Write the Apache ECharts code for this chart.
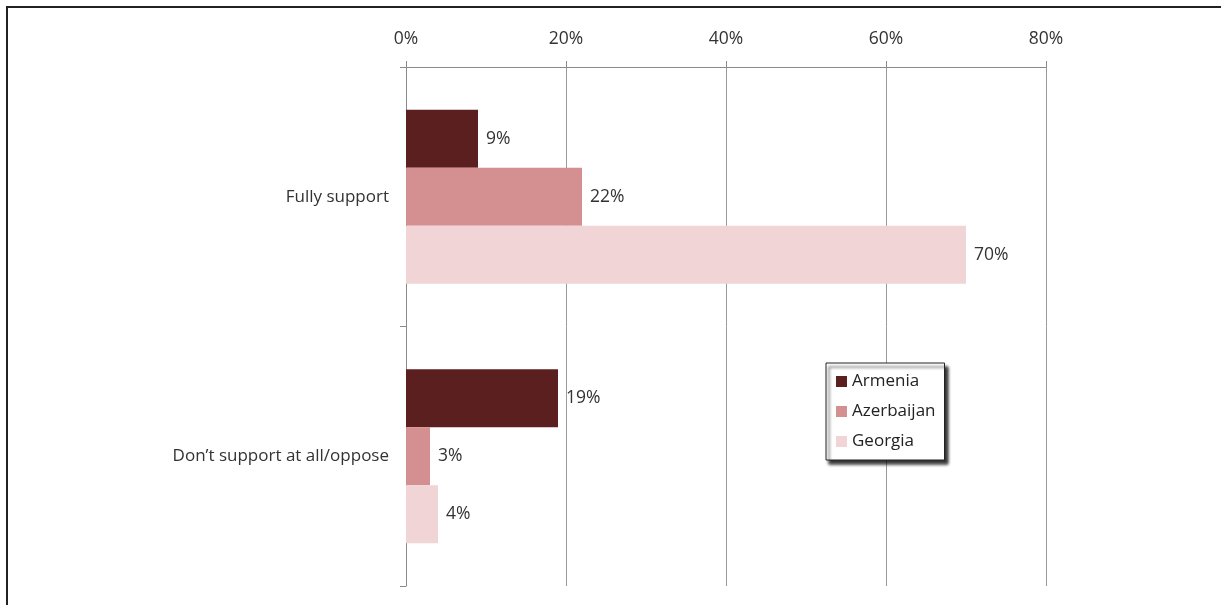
<!DOCTYPE html>
<html>
<head>
<meta charset="utf-8">
<script src="https://cdn.jsdelivr.net/npm/echarts@6/dist/echarts.min.js"></script>
<style>
  html, body { margin: 0; padding: 0; background: #fff; }
  #chart { width: 1221px; height: 605px; }
</style>
</head>
<body>
<div id="chart"></div>
<script>
// Support levels by country (percent of respondents)
const categories = ['Fully support', 'Don\u2019t support at all/oppose'];
const countries = ['Armenia', 'Azerbaijan', 'Georgia'];
const armenia = [9, 19];
const azerbaijan = [22, 3];
const georgia = [70, 4];
const tickValues = [0, 20, 40, 60, 80];

const colors = ['#5c1f1f', '#d48f90', '#f0d4d6'];
const font = '"Open Sans", Lato, sans-serif';

const seriesData = [armenia, azerbaijan, georgia];

const chart = echarts.init(document.getElementById('chart'), null, { renderer: 'canvas' });

chart.setOption({
  animation: false,
  backgroundColor: '#fff',
  grid: { left: 406, right: 175, top: 67, bottom: 19, containLabel: false },
  xAxis: {
    type: 'value',
    position: 'top',
    min: tickValues[0],
    max: tickValues[tickValues.length - 1],
    interval: 20,
    axisLine: { show: true, lineStyle: { color: '#8a8a8a', width: 1 } },
    axisTick: { show: true, length: 6, lineStyle: { color: '#8a8a8a' } },
    axisLabel: {
      formatter: v => v + '%',
      color: '#333',
      fontFamily: font,
      fontSize: 17.5,
      margin: 19
    },
    splitLine: { show: true, lineStyle: { color: '#9a9a9a', width: 1 } }
  },
  yAxis: {
    type: 'category',
    data: categories,
    inverse: true,
    axisLine: { show: true, lineStyle: { color: '#8a8a8a', width: 1 } },
    axisTick: { show: true, length: 6, lineStyle: { color: '#8a8a8a' } },
    axisLabel: {
      color: '#333',
      fontFamily: font,
      fontSize: 17,
      margin: 17
    }
  },
  legend: {
    orient: 'vertical',
    left: 826,
    top: 363,
    width: 118,
    data: countries,
    backgroundColor: '#fff',
    borderColor: '#222',
    borderWidth: 1,
    borderRadius: 0,
    padding: [10, 9, 10, 10],
    itemWidth: 11,
    itemHeight: 11,
    itemGap: 13,
    icon: 'rect',
    shadowColor: 'rgba(0,0,0,0.8)',
    shadowBlur: 3,
    shadowOffsetX: 3,
    shadowOffsetY: 4,
    textStyle: { color: '#222', fontFamily: font, fontSize: 17, padding: [0, 0, 0, 0] }
  },
  graphic: [
    {
      type: 'polyline',
      shape: { points: [[7, 605], [7, 7], [1221, 7]] },
      style: { stroke: '#222', lineWidth: 2, fill: null },
      silent: true
    }
  ],
  series: countries.map((name, i) => ({
    name,
    type: 'bar',
    data: seriesData[i],
    barGap: '0%',
    barCategoryGap: '33%',
    itemStyle: { color: colors[i] },
    label: {
      show: true,
      position: 'right',
      distance: 8,
      formatter: p => p.value + '%',
      color: '#333',
      fontFamily: font,
      fontSize: 17.5
    }
  }))
});
</script>
</body>
</html>
